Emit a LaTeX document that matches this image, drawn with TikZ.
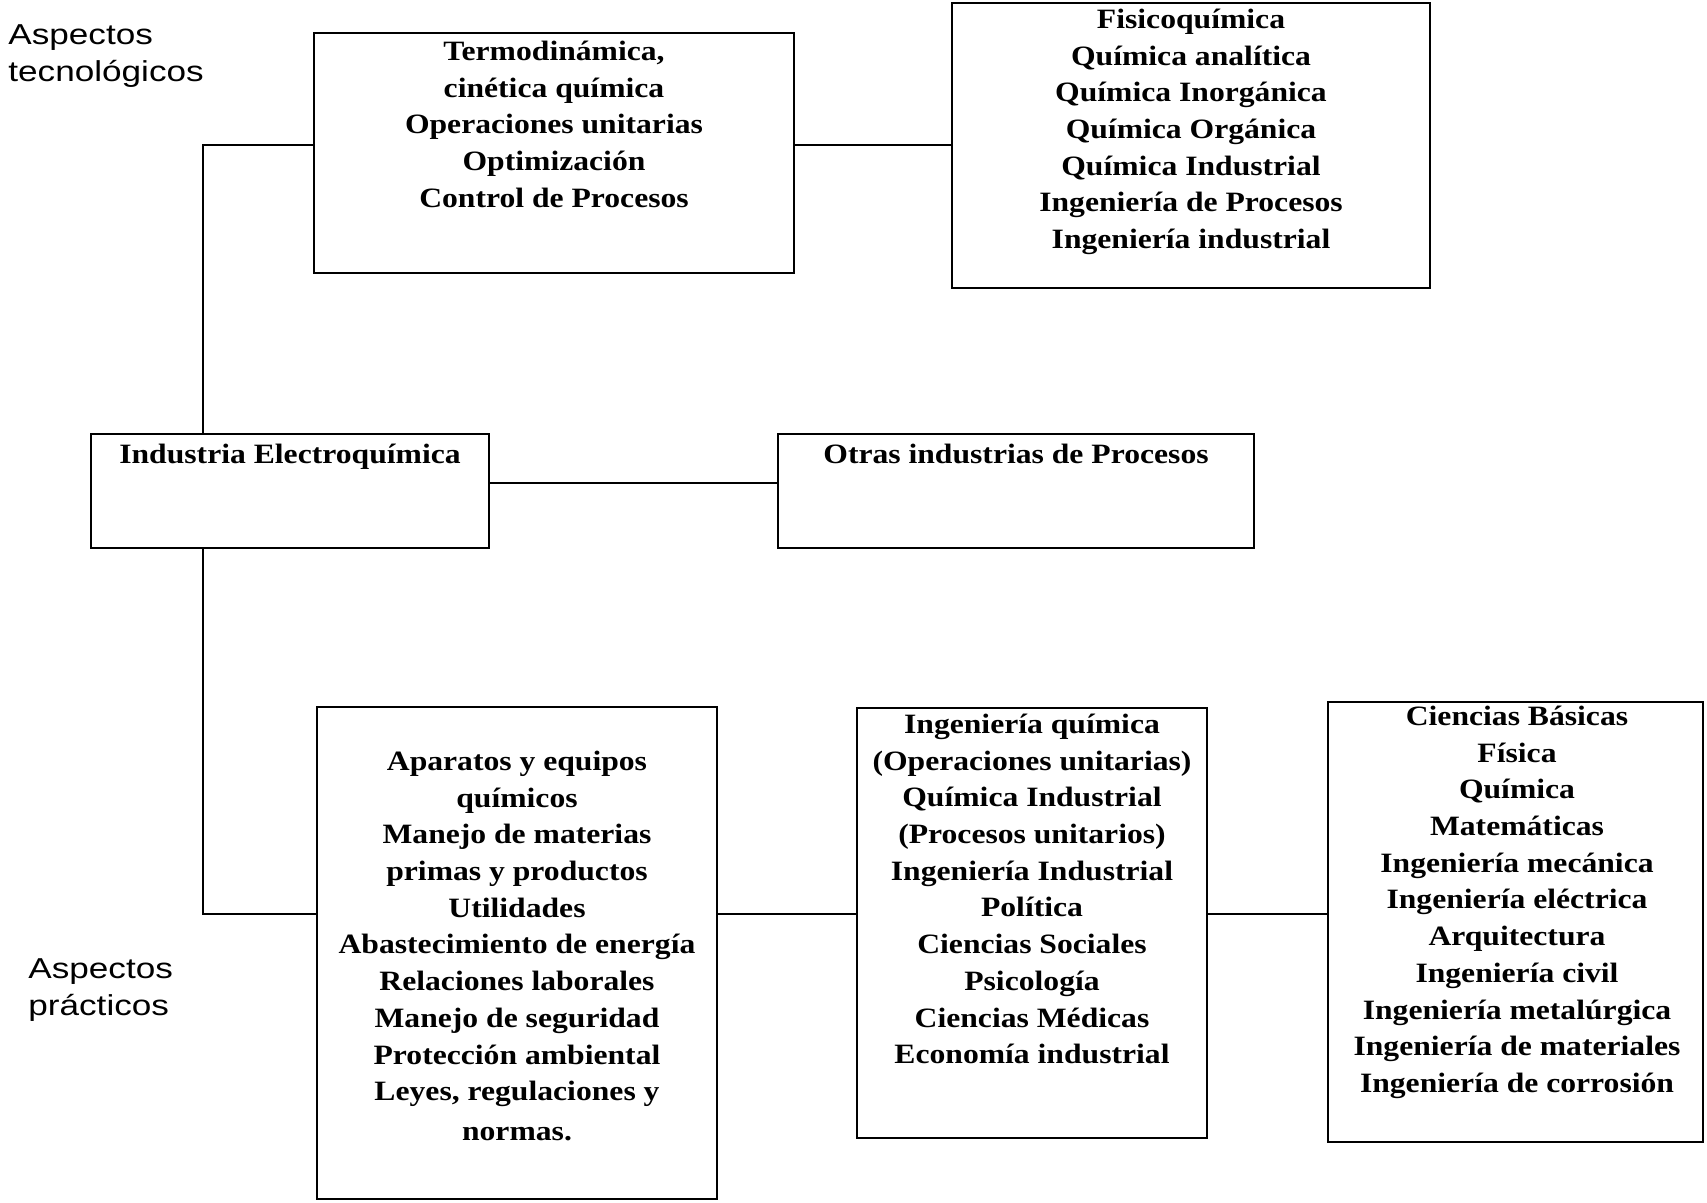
\documentclass[tikz,border=0pt]{standalone}
\usepackage{fontspec}
\setmainfont{Liberation Serif}
\newfontfamily\boxfont[FakeStretch=1.13]{Liberation Serif}
\newfontfamily\labfont[FakeStretch=1.22]{Liberation Sans}
\usetikzlibrary{fit}
\newcommand\myfirststrut{\rule{0pt}{12pt}}
\tikzset{
  box/.style={draw, line width=1.1pt, inner sep=0pt},
  conn/.style={draw, line width=1pt},
  txt/.style={anchor=north, align=center, inner sep=0pt,
    font=\boxfont\bfseries\fontsize{14pt}{18.35pt}\selectfont},
  lab/.style={anchor=north west, align=left, inner sep=0pt,
    font=\labfont\fontsize{14.4pt}{18.5pt}\selectfont}
}
\begin{document}
\begin{tikzpicture}[x=0.5pt,y=-0.5pt]
\useasboundingbox (0,0) rectangle (1707,1203);

% boxes
\node[box, fit={(314,33) (794,273)}] (b1) {};
\node[box, fit={(952,3) (1430,288)}] (b2) {};
\node[box, fit={(91,434) (489,548)}] (b3) {};
\node[box, fit={(778,434) (1254,548)}] (b4) {};
\node[box, fit={(317,707) (717,1199)}] (b5) {};
\node[box, fit={(857,708) (1207,1138)}] (b6) {};
\node[box, fit={(1328,702) (1703,1142)}] (b7) {};

% texts
\node[txt] (t1) at (554,36) {\myfirststrut Termodinámica,\\cinética química\\Operaciones unitarias\\Optimización\\Control de Procesos};
\node[txt] (t2) at (1191,4) {\myfirststrut Fisicoquímica\\Química analítica\\Química Inorgánica\\Química Orgánica\\Química Industrial\\Ingeniería de Procesos\\Ingeniería industrial};
\node[txt] (t3) at (290,439) {\myfirststrut Industria Electroquímica};
\node[txt] (t4) at (1016,439) {\myfirststrut Otras industrias de Procesos};
\node[txt] (t5) at (517,746) {\myfirststrut Aparatos y equipos\\químicos\\Manejo de materias\\primas y productos\\Utilidades\\Abastecimiento de energía\\Relaciones laborales\\Manejo de seguridad\\Protección ambiental\\Leyes, regulaciones y\\[1.5pt]normas.};
\node[txt] (t6) at (1032,709) {\myfirststrut Ingeniería química\\(Operaciones unitarias)\\Química Industrial\\(Procesos unitarios)\\Ingeniería Industrial\\Política\\Ciencias Sociales\\Psicología\\Ciencias Médicas\\Economía industrial};
\node[txt] (t7) at (1517,701) {\myfirststrut Ciencias Básicas\\Física\\Química\\Matemáticas\\Ingeniería mecánica\\Ingeniería eléctrica\\Arquitectura\\Ingeniería civil\\Ingeniería metalúrgica\\Ingeniería de materiales\\Ingeniería de corrosión};

% side labels
\node[lab] (l1) at (8,20) {\myfirststrut Aspectos\\tecnológicos};
\node[lab] (l2) at (28,954) {\myfirststrut Aspectos\\prácticos};

% connectors
\coordinate (c1) at (203,145);
\coordinate (c2) at (600,483);
\coordinate (c3) at (203,914);
\draw[conn] (b1.west |- c1) -- (c1) -- (c1 |- b3.north);
\draw[conn] (b1.east |- c1) -- (b2.west |- c1);
\draw[conn] (b3.east |- c2) -- (b4.west |- c2);
\draw[conn] (c1 |- b3.south) -- (c3) -- (b5.west |- c3);
\draw[conn] (b5.east |- c3) -- (b6.west |- c3);
\draw[conn] (b6.east |- c3) -- (b7.west |- c3);
\end{tikzpicture}
\end{document}
